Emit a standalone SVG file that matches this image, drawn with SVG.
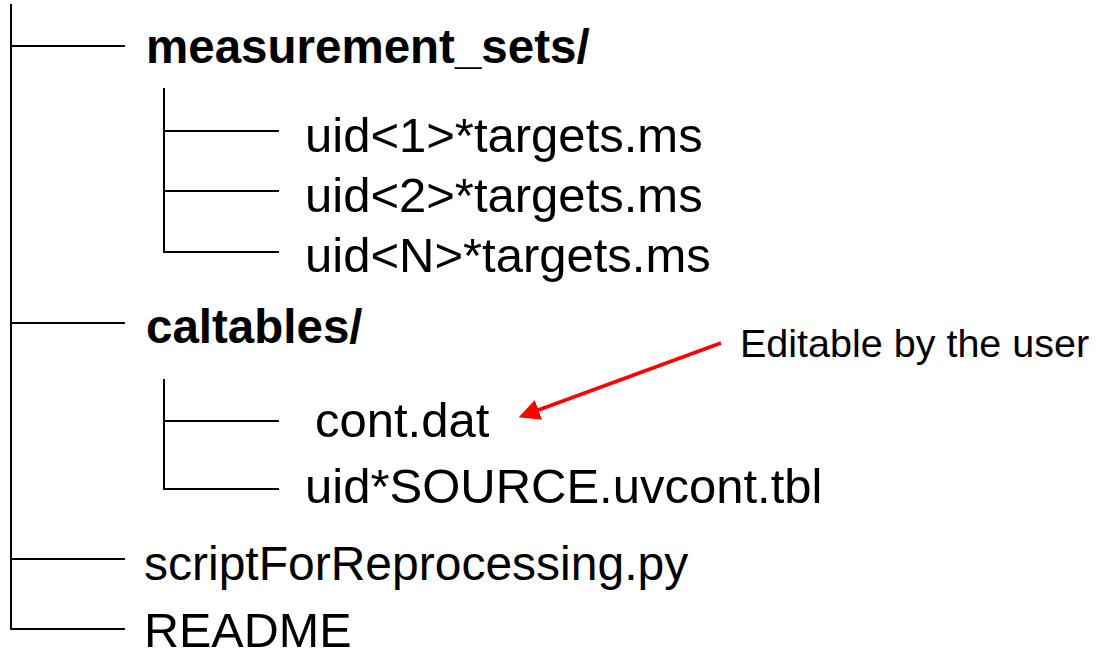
<svg xmlns="http://www.w3.org/2000/svg" width="1097" height="653" viewBox="0 0 1097 653">
<defs>
<style>
.ln{stroke:#000;stroke-width:2;fill:none}
.t{font-family:"Liberation Sans",Arial,sans-serif;font-size:49px;fill:#000}
.b{font-family:"Liberation Sans",Arial,sans-serif;font-size:47.5px;font-weight:bold;fill:#000}
.n{font-family:"Liberation Sans",Arial,sans-serif;font-size:39.5px;fill:#000}
</style>
<marker id="ah" markerWidth="6" markerHeight="6" refX="5" refY="3" orient="auto" markerUnits="strokeWidth">
<path d="M0,0 L6,3 L0,6 Z" fill="#ff0000"/>
</marker>
</defs>
<g id="connectors">
<path class="ln" d="M11,4 V629 H125"/>
<path class="ln" d="M11,46 H125"/>
<path class="ln" d="M11,323 H125"/>
<path class="ln" d="M11,559 H125"/>
<path class="ln" d="M164,88 V252 H279"/>
<path class="ln" d="M164,131 H279"/>
<path class="ln" d="M164,191 H279"/>
<path class="ln" d="M164,379 V489 H279"/>
<path class="ln" d="M164,421 H279"/>
<line x1="721" y1="343" x2="522" y2="416" stroke="#ff0000" stroke-width="3.5" marker-end="url(#ah)"/>
</g>
<g id="measurement_sets"><text class="b" x="146" y="63">measurement_sets/</text></g>
<g id="uid1"><text class="t" x="305" y="152">uid&lt;1&gt;*targets.ms</text></g>
<g id="uid2"><text class="t" x="305" y="212">uid&lt;2&gt;*targets.ms</text></g>
<g id="uidN"><text class="t" x="305" y="272">uid&lt;N&gt;*targets.ms</text></g>
<g id="caltables"><text class="b" x="146" y="343">caltables/</text></g>
<g id="contdat"><text class="t" x="315" y="437">cont.dat</text></g>
<g id="uvcont"><text class="t" x="305" y="503">uid*SOURCE.uvcont.tbl</text></g>
<g id="script"><text class="t" x="144" y="580" style="font-size:48px">scriptForReprocessing.py</text></g>
<g id="readme"><text class="t" x="144" y="647" style="font-size:48.5px">README</text></g>
<g id="note"><text class="n" x="740" y="357">Editable by the user</text></g>
</svg>
